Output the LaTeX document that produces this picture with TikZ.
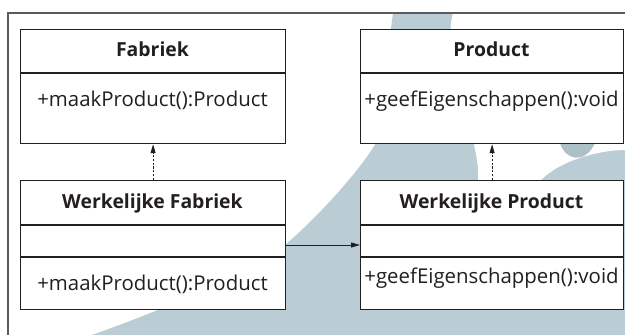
\documentclass[tikz,border=0pt]{standalone}
\usepackage{fontspec}
\setmainfont{Open Sans}
\usetikzlibrary{arrows.meta}
\definecolor{wm}{RGB}{186,205,212}
\definecolor{wmdark}{RGB}{172,192,200}
\definecolor{ink}{RGB}{35,31,32}
\definecolor{framec}{RGB}{90,90,90}
\begin{document}
\begin{tikzpicture}[x=1pt,y=-1pt,
  box/.style={draw=ink, line width=1.2pt, fill=white, anchor=north west, inner sep=0pt},
  divider/.style={draw=ink, line width=1.2pt},
  title/.style={anchor=base, font=\fontsize{19.4}{22}\selectfont\bfseries, text=ink, inner sep=0pt},
  member/.style={anchor=base, font=\fontsize{20.4}{23}\selectfont, text=ink, inner sep=0pt},
  dep/.style={draw=ink, line width=1pt, dash pattern=on 2.2pt off 1.6pt, -{Triangle[length=9pt,width=5pt]}},
  assoc/.style={draw=ink, line width=1pt, -{Triangle[length=9pt,width=5pt]}}]
\useasboundingbox (0,0) rectangle (625,335);
\fill[white] (0,0) rectangle (625,335);
% watermark background
\begin{scope}
  \clip (8,13) rectangle (625,335);
  \fill[wm] (92,335) .. controls (190,300) and (250,270) .. (285,245)
            .. controls (320,215) and (360,170) .. (376,143)
            -- (393,13) -- (625,13) -- (625,335) -- cycle;
  \fill[white] (453,13) -- (625,13) -- (625,150)
            .. controls (600,150) and (560,160) .. (540,181)
            -- (478,181) .. controls (482,140) and (440,60) .. (453,13) -- cycle;
  \fill[wmdark] (560,143) .. controls (565,160) and (585,165) .. (595,143) -- cycle;
\end{scope}
% frame
\draw[framec, line width=1.5pt] (8,335) -- (8,13) -- (625,13);
% boxes
\node[box, minimum width=265pt, minimum height=114pt] (fab) at (20,29) {};
\node[box, minimum width=263pt, minimum height=114pt] (prod) at (360,29) {};
\node[box, minimum width=265pt, minimum height=129pt] (wfab) at (20,180) {};
\node[box, minimum width=263pt, minimum height=129pt] (wprod) at (360,180) {};
% dividers
\draw[divider] (fab.west |- 0,73) -- (fab.east |- 0,73);
\draw[divider] (prod.west |- 0,73) -- (prod.east |- 0,73);
\draw[divider] (wfab.west |- 0,225) -- (wfab.east |- 0,225);
\draw[divider] (wfab.west |- 0,257) -- (wfab.east |- 0,257);
\draw[divider] (wprod.west |- 0,225) -- (wprod.east |- 0,225);
\draw[divider] (wprod.west |- 0,257) -- (wprod.east |- 0,257);
% texts
\node[title] (tfab) at (152.5,56) {Fabriek};
\node[member] (mfab) at (152.5,106) {+maakProduct():Product};
\node[title] (tprod) at (491.5,56) {Product};
\node[member] (mprod) at (491.5,106) {+geefEigenschappen():void};
\node[title] (twfab) at (152.5,208) {Werkelijke Fabriek};
\node[member] (mwfab) at (152.5,290) {+maakProduct():Product};
\node[title] (twprod) at (491.5,208) {Werkelijke Product};
\node[member] (mwprod) at (491.5,283) {+geefEigenschappen():void};
% connectors
\draw[dep] (wfab.north) -- (fab.south);
\draw[dep] (wprod.north) -- (prod.south);
\draw[assoc] (wfab.east |- 0,245) -- (wprod.west |- 0,245);
\end{tikzpicture}
\end{document}
